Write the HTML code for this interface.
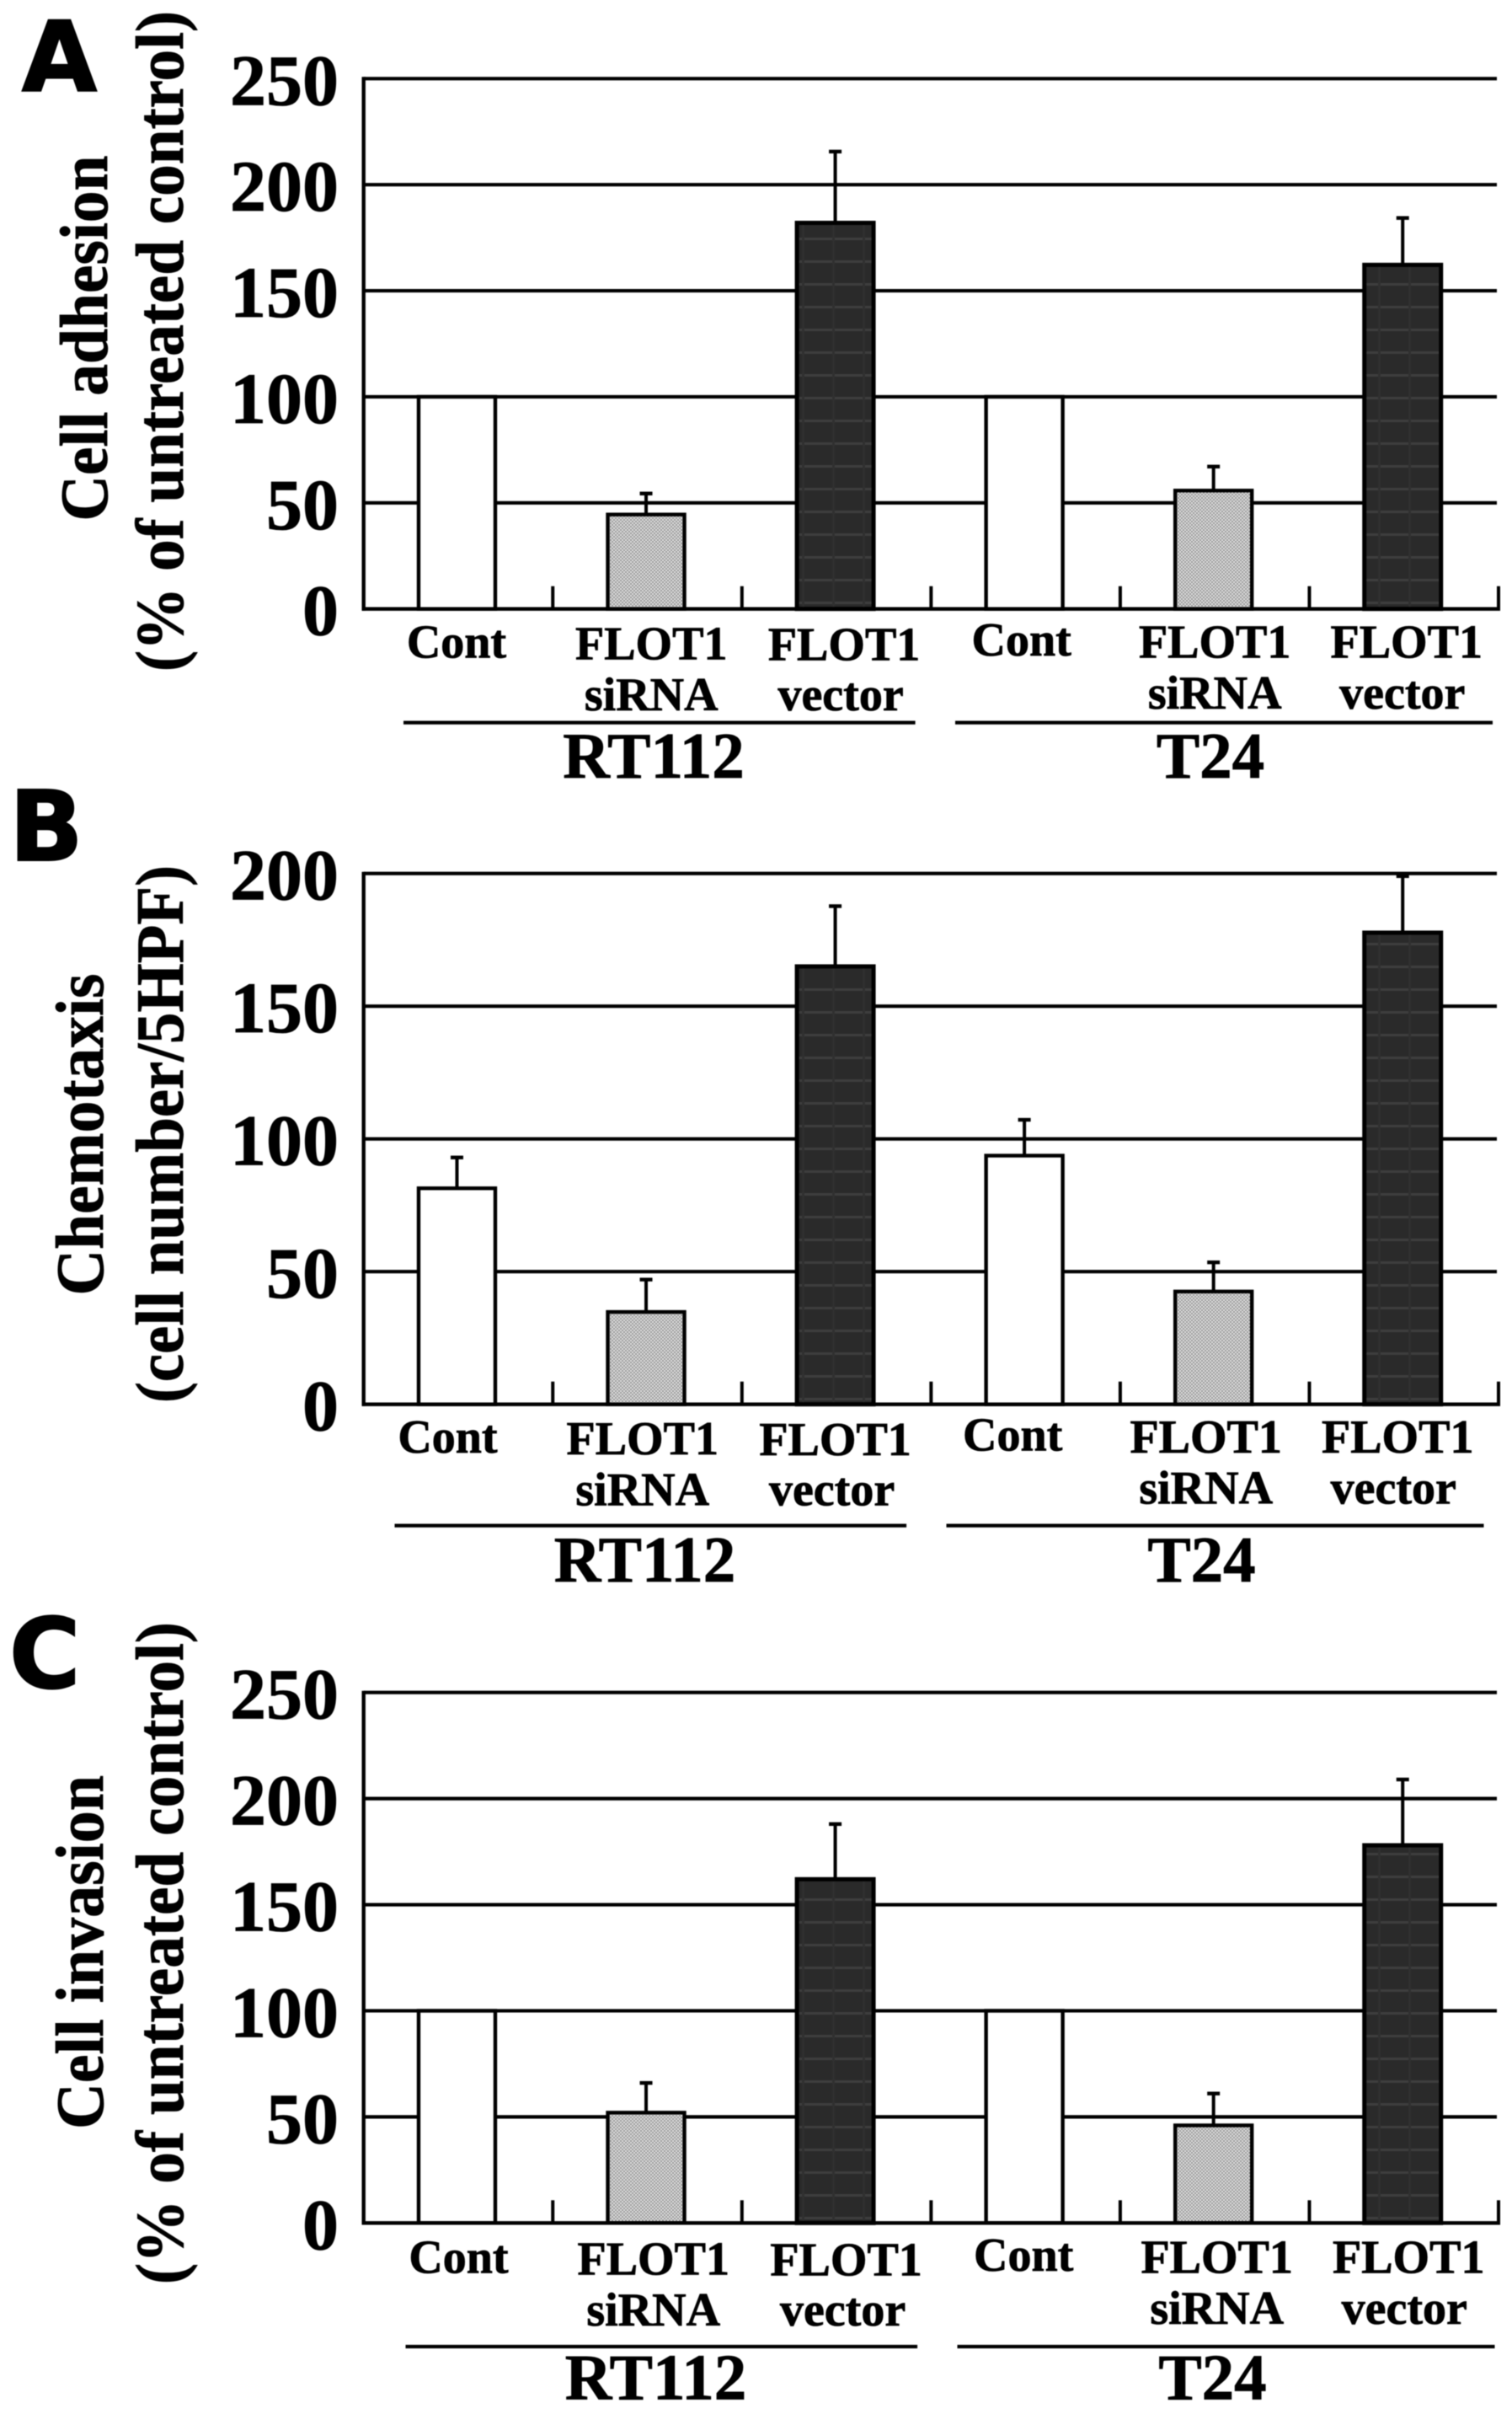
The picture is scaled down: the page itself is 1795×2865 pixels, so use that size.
<!DOCTYPE html>
<html lang="en">
<head>
<meta charset="utf-8">
<title>FLOT1 cell adhesion, chemotaxis and invasion</title>
<style>
  html,body{margin:0;padding:0;background:#fff;}
  body{width:1795px;height:2865px;overflow:hidden;}
  svg{display:block;filter:blur(0.5px);}
  text{font-family:"Liberation Serif",serif;font-weight:700;fill:#000;stroke:#000;stroke-width:0.8px;}
  .letter{font-family:"DejaVu Sans",sans-serif;font-weight:700;font-size:115px;stroke-width:2px;}
  .title{font-size:80px;}
  .tick{font-size:86px;text-anchor:end;}
  .cat{font-size:56px;text-anchor:middle;}
  .group{font-size:77px;text-anchor:middle;}
</style>
</head>
<body>
<svg id="fig" xmlns="http://www.w3.org/2000/svg" width="1795" height="2865" viewBox="0 0 1795 2865">
  <defs>
    <pattern id="grey-dots" width="4" height="4" patternUnits="userSpaceOnUse">
      <rect width="4" height="4" fill="#e4e4e4"/>
      <rect width="2" height="2" fill="#969696"/>
      <rect x="2" y="2" width="2" height="2" fill="#969696"/>
    </pattern>
    <pattern id="dark-plaid" width="36" height="27" patternUnits="userSpaceOnUse">
      <rect width="36" height="27" fill="#2a2a2a"/>
      <rect y="12" width="36" height="3" fill="#3e3e3e"/>
      <rect x="16" width="3" height="27" fill="#303030"/>
    </pattern>
  </defs>
  <rect width="1795" height="2865" fill="#fff"/>

  <text class="letter" x="26" y="108">A</text>
  <text class="letter" x="11" y="1021">B</text>
  <text class="letter" x="11" y="2003">C</text>

  <text class="title" text-anchor="middle" textLength="434" lengthAdjust="spacingAndGlyphs" transform="translate(127,401.5) rotate(-90)">Cell adhesion</text>
  <text class="title" text-anchor="middle" textLength="784" lengthAdjust="spacingAndGlyphs" transform="translate(217,405) rotate(-90)">(% of untreated control)</text>
  <text class="title" text-anchor="middle" textLength="382" lengthAdjust="spacingAndGlyphs" transform="translate(122,1346.5) rotate(-90)">Chemotaxis</text>
  <text class="title" text-anchor="middle" textLength="638" lengthAdjust="spacingAndGlyphs" transform="translate(217,1346) rotate(-90)">(cell number/5HPF)</text>
  <text class="title" text-anchor="middle" textLength="420" lengthAdjust="spacingAndGlyphs" transform="translate(122,2317) rotate(-90)">Cell invasion</text>
  <text class="title" text-anchor="middle" textLength="786" lengthAdjust="spacingAndGlyphs" transform="translate(217,2318) rotate(-90)">(% of untreated control)</text>
</svg>

<script>
// ---- chart data ----
const categoryLines = [['Cont'], ['FLOT1', 'siRNA'], ['FLOT1', 'vector'], ['Cont'], ['FLOT1', 'siRNA'], ['FLOT1', 'vector']];
const groupNames = ['RT112', 'T24'];

const adhesionTicks = [0, 50, 100, 150, 200, 250];
const adhesionValues = [100, 44.5, 182, 100, 55.8, 162.2];
const adhesionErrors = [0, 9.9, 33.6, 0, 11.3, 22.1];

const chemotaxisTicks = [0, 50, 100, 150, 200];
const chemotaxisValues = [81.4, 34.8, 165, 93.7, 42.5, 177.7];
const chemotaxisErrors = [11.6, 12.2, 22.7, 13.5, 11, 21.3];

const invasionTicks = [0, 50, 100, 150, 200, 250];
const invasionValues = [100, 52, 162, 100, 46, 178];
const invasionErrors = [0, 14, 26, 0, 15, 31];

// ---- layout ----
const NS = 'http://www.w3.org/2000/svg';
const fig = document.getElementById('fig');
const AXIS_LEFT = 431.7, AXIS_RIGHT = 1779, BAR_W = 91, BAR_SHIFT = -1.5;
const CAT_W = (AXIS_RIGHT - AXIS_LEFT) / categoryLines.length;
const barFills = ['#fff', 'url(#grey-dots)', 'url(#dark-plaid)'];
const barStroke = [4.4, 4.4, 5];
const labelShiftX = [-0.5, 6.2, 10.5, -3.5, 1.5, 4.5];
const secondLineShiftX = [0, 0, -4, 0, 0, -5];
const labelShiftY = [58, 60, 61, 55.5, 58, 58];

function make(tag, attrs, text) {
  const e = document.createElementNS(NS, tag);
  for (const k in attrs) e.setAttribute(k, attrs[k]);
  if (text !== undefined) e.textContent = text;
  fig.appendChild(e);
  return e;
}
function xCenter(i) { return AXIS_LEFT + CAT_W * (i + 0.5) + BAR_SHIFT; }

function drawPanel(p) {
  const yMax = p.ticks[p.ticks.length - 1];
  const y = function (v) { return p.zero - (p.zero - p.top) * v / yMax; };

  // gridlines and tick labels
  p.ticks.forEach(function (t) {
    if (t !== 0) {
      const g = make('line', { x1: AXIS_LEFT, x2: AXIS_RIGHT - 2, y1: y(t), y2: y(t), stroke: '#000', 'stroke-width': 4.2 });
      
      
    }
    const l = make('text', { class: 'tick', x: 402, y: y(t) + 31 }, String(t));
    
    
  });

  // bars and error bars
  p.values.forEach(function (v, i) {
    const cx = xCenter(i);
    if (p.errors[i] > 0) {
      const top = y(v + p.errors[i]);
      const stem = make('line', { x1: cx, x2: cx, y1: y(v), y2: top, stroke: '#000', 'stroke-width': 4 });
      
      
      const cap = make('line', { x1: cx - 7.5, x2: cx + 7.5, y1: top, y2: top, stroke: '#000', 'stroke-width': 4.4 });
      
      
    }
    const r = make('rect', {
      x: cx - BAR_W / 2, y: y(v), width: BAR_W, height: p.zero - y(v),
      fill: barFills[i % 3], stroke: '#000', 'stroke-width': barStroke[i % 3]
    });
    
    
  });

  // axes
  const yAxis = make('line', { x1: AXIS_LEFT, x2: AXIS_LEFT, y1: p.top - 2, y2: p.zero + 2, stroke: '#000', 'stroke-width': 4.4 });
  
  
  const xAxis = make('line', { x1: AXIS_LEFT - 2, x2: AXIS_RIGHT + 2, y1: p.zero, y2: p.zero, stroke: '#000', 'stroke-width': 4.4 });
  
  
  categoryLines.forEach(function (c, i) {
    const tx = AXIS_LEFT + CAT_W * (i + 1);
    const m = make('line', { x1: tx, x2: tx, y1: p.zero - 27, y2: p.zero, stroke: '#000', 'stroke-width': 4 });
    
    
  });

  // category labels
  categoryLines.forEach(function (lines, i) {
    lines.forEach(function (word, j) {
      const t = make('text', {
        class: 'cat',
        x: xCenter(i) + labelShiftX[i] + p.dx + (j === 1 ? secondLineShiftX[i] : 0),
        y: p.zero + p.dy + labelShiftY[i] + (j === 1 ? 60.5 : 0) + (j === 1 && i === 2 ? -1 : 0)
      }, word);
      
      
    });
  });

  // group brackets and labels
  const spans = [[479, 1086.6, 776], [1134, 1772, 1437]];
  groupNames.forEach(function (g, i) {
    const ln = make('line', { x1: spans[i][0] + p.dx, x2: spans[i][1] + p.dx, y1: p.groupLine, y2: p.groupLine, stroke: '#000', 'stroke-width': 4.2 });
    
    
    const gt = make('text', { class: 'group', x: spans[i][2] + p.dx, y: p.groupLabel }, g);
    
    
  });
}

drawPanel({ id: 'adhesion', ticks: adhesionTicks, values: adhesionValues, errors: adhesionErrors,
  top: 93.3, zero: 722.7, dx: 0, dy: 0, groupLine: 857.6, groupLabel: 923 });
drawPanel({ id: 'chemotaxis', ticks: chemotaxisTicks, values: chemotaxisValues, errors: chemotaxisErrors,
  top: 1036.7, zero: 1666.7, dx: -10.5, dy: -0.5, groupLine: 1810.6, groupLabel: 1877 });
drawPanel({ id: 'invasion', ticks: invasionTicks, values: invasionValues, errors: invasionErrors,
  top: 2008.7, zero: 2638.3, dx: 2.5, dy: 1, groupLine: 2785, groupLabel: 2847.7 });
</script>
</body>
</html>
